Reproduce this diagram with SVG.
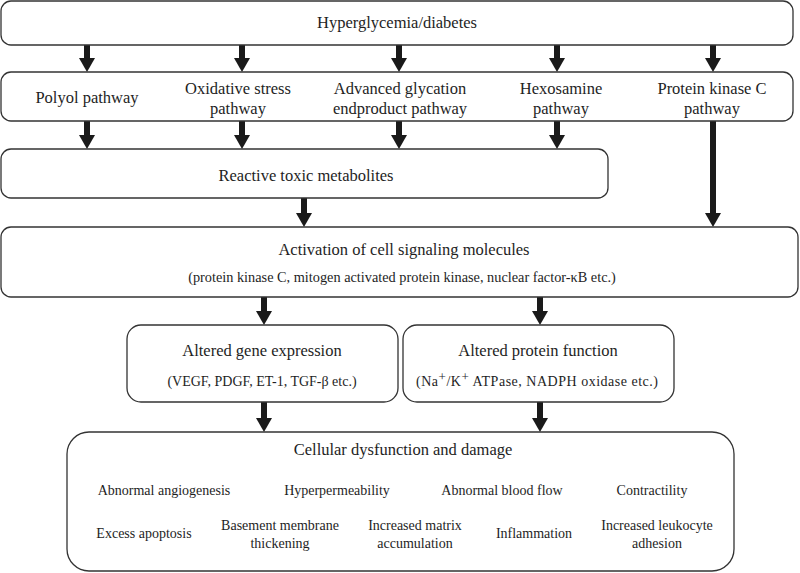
<svg xmlns="http://www.w3.org/2000/svg" width="800" height="573" viewBox="0 0 800 573">
  <defs>
    <marker id="ah" markerUnits="userSpaceOnUse" markerWidth="14" markerHeight="16" viewBox="0 0 14 16" refX="0" refY="8" orient="auto">
      <path d="M0,0 L14,8 L0,16 z" fill="#1a1a1a"/>
    </marker>
    <style>
      .box { fill: #ffffff; stroke: #333333; stroke-width: 1.3; }
      .t { font-family: "Liberation Serif", "Times New Roman", serif; fill: #1e1e1e; text-anchor: middle; }
      .h { font-size: 16.5px; }
      .s { font-size: 14px; }
      .b { font-size: 14px; }
      .arr { stroke: #1a1a1a; stroke-width: 6; fill: none; marker-end: url(#ah); }
    </style>
  </defs>
  <rect width="800" height="573" fill="#ffffff"/>

  <g id="connectors">
    <line class="arr" x1="87" y1="45" x2="87" y2="58"/>
    <line class="arr" x1="242" y1="45" x2="242" y2="58"/>
    <line class="arr" x1="399" y1="45" x2="399" y2="58"/>
    <line class="arr" x1="557" y1="45" x2="557" y2="58"/>
    <line class="arr" x1="713" y1="45" x2="713" y2="58"/>
    <line class="arr" x1="87" y1="121" x2="87" y2="135"/>
    <line class="arr" x1="242" y1="121" x2="242" y2="135"/>
    <line class="arr" x1="399" y1="121" x2="399" y2="135"/>
    <line class="arr" x1="557" y1="121" x2="557" y2="135"/>
    <line class="arr" x1="304" y1="198" x2="304" y2="213"/>
    <line class="arr" x1="713" y1="121" x2="713" y2="213"/>
    <line class="arr" x1="264" y1="297" x2="264" y2="311"/>
    <line class="arr" x1="540" y1="297" x2="540" y2="311"/>
    <line class="arr" x1="264" y1="402" x2="264" y2="418"/>
    <line class="arr" x1="540" y1="402" x2="540" y2="418"/>
  </g>

  <g id="hyperglycemia">
    <rect class="box" x="1" y="1" width="792" height="44" rx="10"/>
    <text class="t h" x="397" y="28">Hyperglycemia/diabetes</text>
  </g>

  <g id="pathways">
    <rect class="box" x="1" y="72" width="792" height="49" rx="10"/>
    <text class="t h" x="87" y="103">Polyol pathway</text>
    <text class="t h" x="238" y="94">Oxidative stress</text>
    <text class="t h" x="238" y="114">pathway</text>
    <text class="t h" x="400" y="94">Advanced glycation</text>
    <text class="t h" x="400" y="114">endproduct pathway</text>
    <text class="t h" x="561" y="94">Hexosamine</text>
    <text class="t h" x="561" y="114">pathway</text>
    <text class="t h" x="712" y="94">Protein kinase C</text>
    <text class="t h" x="712" y="114">pathway</text>
  </g>

  <g id="reactive">
    <rect class="box" x="1" y="149" width="607" height="49" rx="10"/>
    <text class="t h" x="306" y="181">Reactive toxic metabolites</text>
  </g>

  <g id="activation">
    <rect class="box" x="1" y="227" width="797" height="70" rx="10"/>
    <text class="t h" x="404" y="255">Activation of cell signaling molecules</text>
    <text class="t" x="402" y="282" font-size="14.3">(protein kinase C, mitogen activated protein kinase, nuclear factor-κB etc.)</text>
  </g>

  <g id="gene">
    <rect class="box" x="127" y="325" width="271" height="77" rx="14"/>
    <text class="t h" x="262" y="356">Altered gene expression</text>
    <text class="t s" x="262" y="386">(VEGF, PDGF, ET-1, TGF-β etc.)</text>
  </g>

  <g id="protein">
    <rect class="box" x="403" y="325" width="271" height="77" rx="14"/>
    <text class="t h" x="538" y="356">Altered protein function</text>
    <text class="t" x="537" y="386" font-size="14" textLength="242" lengthAdjust="spacing">(Na<tspan baseline-shift="35%" font-size="13">+</tspan>/K<tspan baseline-shift="35%" font-size="13">+</tspan> ATPase, NADPH oxidase etc.)</text>
  </g>

  <g id="cellular">
    <rect class="box" x="67" y="432" width="667" height="139" rx="22"/>
    <text class="t h" x="403" y="455">Cellular dysfunction and damage</text>
    <text class="t b" x="164" y="495">Abnormal angiogenesis</text>
    <text class="t b" x="337" y="495">Hyperpermeability</text>
    <text class="t b" x="502" y="495">Abnormal blood flow</text>
    <text class="t b" x="652" y="495">Contractility</text>
    <text class="t b" x="144" y="538">Excess apoptosis</text>
    <text class="t b" x="280" y="530">Basement membrane</text>
    <text class="t b" x="280" y="548">thickening</text>
    <text class="t b" x="415" y="530">Increased matrix</text>
    <text class="t b" x="415" y="548">accumulation</text>
    <text class="t b" x="534" y="538">Inflammation</text>
    <text class="t b" x="657" y="530">Increased leukocyte</text>
    <text class="t b" x="657" y="548">adhesion</text>
  </g>
</svg>
